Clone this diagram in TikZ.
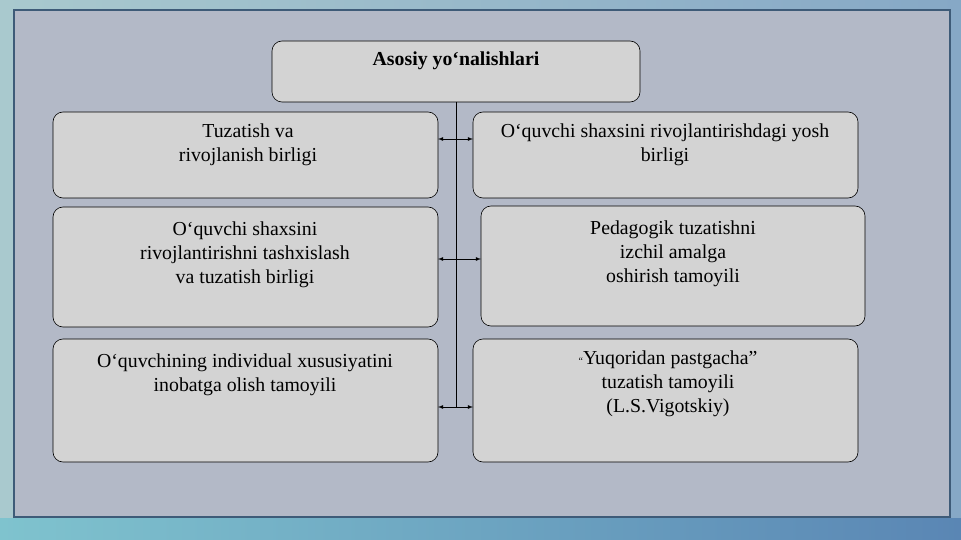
\documentclass[tikz,border=0pt]{standalone}
\usepackage{fontspec}
\setmainfont{Liberation Serif}
\begin{document}
\begin{tikzpicture}[x=1pt,y=-1pt,
  bx/.style={draw=black,fill=boxgray,rounded corners=10pt,line width=0.6pt},
  tx/.style={align=center,font=\fontsize{19.8}{24}\selectfont,anchor=north,inner sep=0pt},
  arr/.style={<->,>=latex,line width=0.8pt}]
\definecolor{boxgray}{HTML}{D3D3D3}
\definecolor{inner}{HTML}{B3B9C7}
\definecolor{frame}{HTML}{3E5B78}
\definecolor{bgl}{HTML}{A9C9CE}
\definecolor{bgr}{HTML}{86A8C6}
\definecolor{strl}{HTML}{7FC3CE}
\definecolor{strr}{HTML}{5A86B4}
\shade[left color=bgl, right color=bgr] (0,0) rectangle (961,540);
\shade[left color=strl, right color=strr] (0,518) rectangle (961,540);
\draw[frame,fill=inner,line width=1.2pt] (14,10) rectangle (950,517);
\draw[bx] (272,41) rectangle (640,102);
\node[tx,font=\fontsize{19.8}{24}\selectfont\bfseries] (t) at (456,52) {Asosiy yoʻnalishlari};
\draw[bx] (53,112) rectangle (438,198);
\node[tx] (l1) at (248,124) {Tuzatish va\\rivojlanish birligi};
\draw[bx] (473,112) rectangle (858,198);
\node[tx] (r1) at (665,124) {Oʻquvchi shaxsini rivojlantirishdagi yosh\\birligi};
\draw[bx] (53,207) rectangle (438,327);
\node[tx] (l2) at (245,222) {Oʻquvchi shaxsini\\rivojlantirishni tashxislash\\va tuzatish birligi};
\draw[bx] (481,206) rectangle (865,326);
\node[tx] (r2) at (673,221) {Pedagogik tuzatishni\\izchil amalga\\oshirish tamoyili};
\draw[bx] (53,339) rectangle (438,462);
\node[tx] (l3) at (245,354) {Oʻquvchining individual xususiyatini\\inobatga olish tamoyili};
\draw[bx] (473,339) rectangle (858,462);
\node[tx] (r3) at (668,351) {{\fontsize{10}{24}\selectfont“}Yuqoridan pastgacha”\\tuzatish tamoyili\\(L.S.Vigotskiy)};
\coordinate (vt) at (456,102);
\coordinate (vb) at (456,408);
\draw[line width=1pt] (vt) -- (vb);
\coordinate (a1) at (438,139); \coordinate (b1) at (473,139);
\coordinate (a2) at (438,259); \coordinate (b2) at (481,259);
\coordinate (a3) at (438,407); \coordinate (b3) at (473,407);
\draw[arr] (a1) -- (b1);
\draw[arr] (a2) -- (b2);
\draw[arr] (a3) -- (b3);
\end{tikzpicture}
\end{document}
